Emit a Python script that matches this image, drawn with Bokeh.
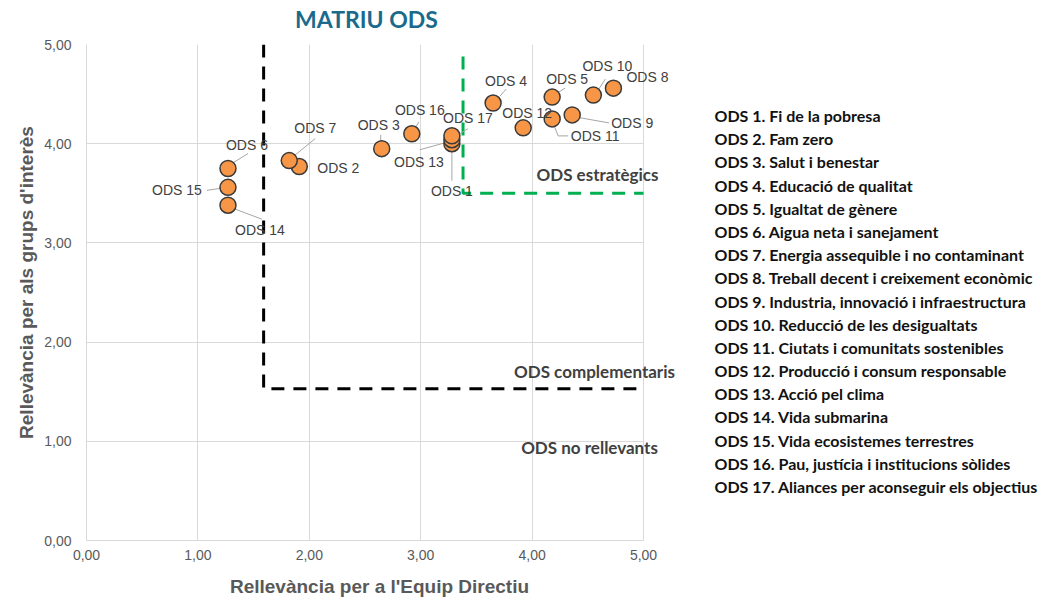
import math
from bokeh.plotting import figure
from bokeh.models import Range1d, Label, FixedTicker, CustomJSTickFormatter, ColumnDataSource, Grid
from bokeh.core.properties import value
from bokeh.embed import file_html
from bokeh.resources import INLINE

# ---------------- data ----------------
ods_names = ["ODS 1", "ODS 2", "ODS 3", "ODS 4", "ODS 5", "ODS 6", "ODS 7", "ODS 8", "ODS 9",
             "ODS 10", "ODS 11", "ODS 12", "ODS 13", "ODS 14", "ODS 15", "ODS 16", "ODS 17"]
relev_directiu = [3.28, 1.91, 2.65, 3.65, 4.18, 1.27, 1.82, 4.73, 4.36,
                  4.55, 4.18, 3.92, 3.28, 1.27, 1.27, 2.92, 3.28]
relev_grups = [4.00, 3.77, 3.95, 4.41, 4.47, 3.75, 3.83, 4.56, 4.29,
               4.49, 4.25, 4.16, 4.04, 3.38, 3.56, 4.10, 4.08]
legend_texts = [
    "ODS 1. Fi de la pobresa",
    "ODS 2. Fam zero",
    "ODS 3. Salut i benestar",
    "ODS 4. Educació de qualitat",
    "ODS 5. Igualtat de gènere",
    "ODS 6. Aigua neta i sanejament",
    "ODS 7. Energia assequible i no contaminant",
    "ODS 8. Treball decent i creixement econòmic",
    "ODS 9. Industria, innovació i infraestructura",
    "ODS 10. Reducció de les desigualtats",
    "ODS 11. Ciutats i comunitats sostenibles",
    "ODS 12. Producció i consum responsable",
    "ODS 13. Acció pel clima",
    "ODS 14. Vida submarina",
    "ODS 15. Vida ecosistemes terrestres",
    "ODS 16. Pau, justícia i institucions sòlides",
    "ODS 17. Aliances per aconseguir els objectius",
]
tick_values = [0, 1, 2, 3, 4, 5]
axis_min, axis_max = 0, 5
# quadrant thresholds (x, y)
limit_complementaris = (1.59, 1.53)
limit_estrategics = (3.38, 3.50)
estrategics_top = 4.88
zone_labels = ["ODS estratègics", "ODS complementaris", "ODS no rellevants"]
title_text = "MATRIU ODS"
x_title = "Rellevància per a l'Equip Directiu"
y_title = "Rellevància per als grups d'interès"

# ---------------- layout / styles ----------------
W, H = 1045, 598
FL, FT, FB = 86, 44, 540        # frame left/top/bottom (canvas px)
AX_RIGHT = 643                  # pixel where x = 5
PXX = (AX_RIGHT - FL) / (axis_max - axis_min)
PXY = (FB - FT) / (axis_max - axis_min)
X_END = axis_max + (W - AX_RIGHT) / PXX   # frame extends to right canvas edge (room for legend)

def px_to_data(px, py):
    return ((px - FL) / PXX, (FB - py) / PXY)

# label offsets in px (right, down) relative to marker
label_off = [(0, 47), (39, 1), (-3, -24), (13, -22), (15, -18), (19, -24), (26, -33), (34, -11),
             (60, 8), (14, -29), (43, 17), (4, -15), (-33, 22), (32, 25), (-51, 3), (8, -24), (16, -18)]
leader_off = [
    [(0, 5), (0, 37)], None, [(-1, -8), (-1, -14)], [(7, -7), (13, -14)], [(5, -4), (13, -9)],
    [(4, -5), (20, -15)], [(4, -4), (26, -22)], None, [(3, 2), (37, 8)], [(2, -1), (12, -16)],
    [(0, 2), (6, 17), (16, 17)], None, [(-32, 10), (-3, 2)], [(2, 2), (34, 14)],
    [(-21, 3), (-1, 0)], [(1, -1), (7, -12)], [(1, 2), (16, -7)],
]

p = figure(width=W, height=H, output_backend="svg", toolbar_location=None,
           x_range=Range1d(0, X_END), y_range=Range1d(axis_min, axis_max),
           min_border_left=FL, min_border_right=0, min_border_top=FT, min_border_bottom=H - FB)
p.title.visible = False
p.background_fill_color = "white"
p.border_fill_color = "white"
p.outline_line_color = None

fmt = CustomJSTickFormatter(code="return tick.toFixed(2).replace('.', ',');")
for ax in (p.xaxis[0], p.yaxis[0]):
    ax.ticker = FixedTicker(ticks=tick_values)
    ax.formatter = fmt
    ax.bounds = (axis_min, axis_max)
    ax.axis_line_color = "#D9D9D9"
    ax.major_tick_line_color = None
    ax.minor_tick_line_color = None
    ax.major_label_text_font = "Liberation Sans"
    ax.major_label_text_font_size = "14px"
    ax.major_label_text_color = "#595959"
p.xaxis[0].major_label_standoff = 3
p.yaxis[0].major_label_standoff = 9

p.xgrid[0].ticker = FixedTicker(ticks=tick_values)
p.xgrid[0].grid_line_color = "#D9D9D9"
if "cross_bounds" in Grid.properties():
    p.ygrid[0].ticker = FixedTicker(ticks=tick_values)
    p.ygrid[0].cross_bounds = (axis_min, axis_max)
    p.ygrid[0].grid_line_color = "#D9D9D9"
else:
    p.ygrid[0].visible = False
    p.segment(x0=[axis_min] * len(tick_values), x1=[axis_max] * len(tick_values),
              y0=tick_values, y1=tick_values, line_color="#D9D9D9", line_width=1)

# quadrant dashed lines
p.line([limit_complementaris[0], limit_complementaris[0], axis_max],
       [axis_max, limit_complementaris[1], limit_complementaris[1]],
       line_color="black", line_width=3, line_dash="13 9")
p.line([limit_estrategics[0], limit_estrategics[0], axis_max],
       [estrategics_top, limit_estrategics[1], limit_estrategics[1]],
       line_color="#00B050", line_width=3, line_dash="13 9")

# leader lines
lx, ly = [], []
for x, y, lo in zip(relev_directiu, relev_grups, leader_off):
    if lo is None:
        continue
    lx.append([x + dx / PXX for dx, dy in lo])
    ly.append([y - dy / PXY for dx, dy in lo])
p.multi_line(lx, ly, line_color="#A6A6A6", line_width=1)

src = ColumnDataSource(dict(x=relev_directiu, y=relev_grups, name=ods_names))
p.scatter("x", "y", source=src, size=16, fill_color="#F79646", line_color="#3A3A3A", line_width=1.5)

lab = ColumnDataSource(dict(
    x=[x + dx / PXX for x, (dx, dy) in zip(relev_directiu, label_off)],
    y=[y - dy / PXY for y, (dx, dy) in zip(relev_grups, label_off)],
    t=ods_names))
p.text("x", "y", text="t", source=lab, text_align="center", text_baseline="middle",
       text_font=value("Liberation Sans"), text_font_size="14px", text_color="#404040")

# zone labels
for txt, (ix, iy) in zip(zone_labels, [(597, 174), (594, 371), (589, 447)]):
    x, y = px_to_data(ix, iy)
    p.add_layout(Label(x=x, y=y, text=txt, text_align="center", text_baseline="middle",
                       text_font="Lato", text_font_style="bold", text_font_size="17px",
                       text_color="#404040"))

# legend list
for i, t in enumerate(legend_texts):
    x, y = px_to_data(714, 115 + 23.19 * i)
    p.add_layout(Label(x=x, y=y, text=t, text_align="left", text_baseline="middle",
                       text_font="Lato", text_font_style="bold", text_font_size="16px",
                       text_color="#111111"))

# title (side panel: not clipped)
x, y = px_to_data(366, 18)
p.add_layout(Label(x=x, y=y, text=title_text, text_align="center", text_baseline="middle",
                   text_font="Lato", text_font_style="bold", text_font_size="23px",
                   text_color="#1B6A8C"), "above")

# axis titles (side panels)
x, y = px_to_data(379, 586)
p.add_layout(Label(x=x, y=y, text=x_title, text_align="center", text_baseline="middle",
                   text_font="Liberation Sans", text_font_style="bold", text_font_size="19px",
                   text_color="#595959"), "below")
x, y = px_to_data(26, 282)
p.add_layout(Label(x=x, y=y, text=y_title, text_align="center", text_baseline="middle",
                   angle=math.pi / 2, text_font="Liberation Sans", text_font_style="bold",
                   text_font_size="19px", text_color="#595959"), "left")

open("out.html", "w").write(file_html(p, INLINE))
